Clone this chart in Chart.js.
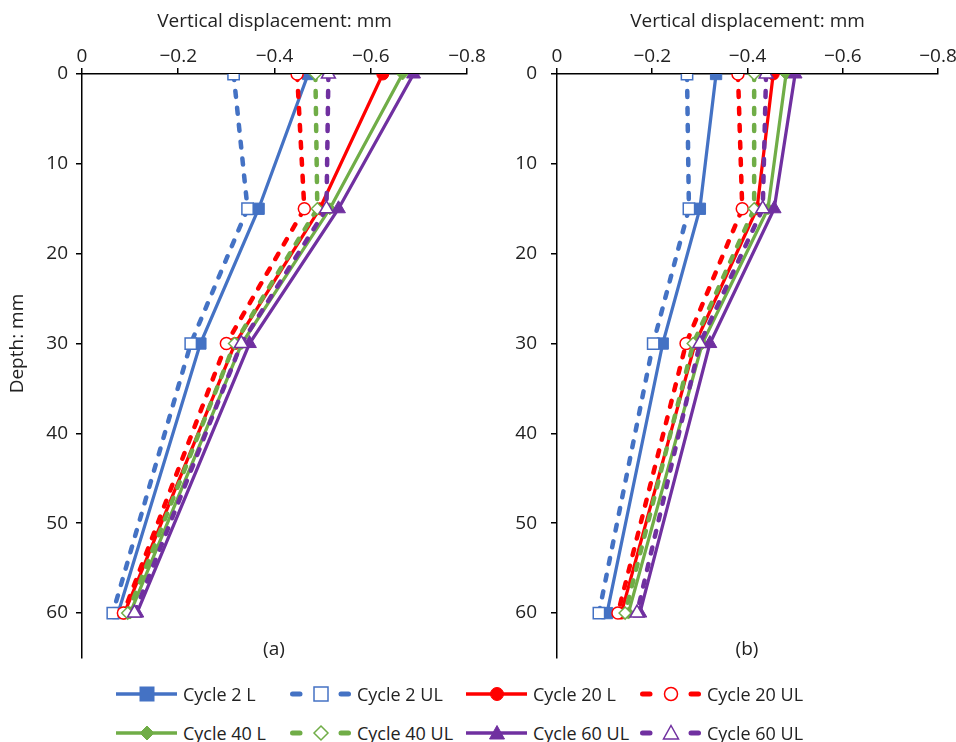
<!DOCTYPE html>
<html>
<head>
<meta charset="utf-8">
<script src="https://cdn.jsdelivr.net/npm/chart.js@4.4.1/dist/chart.umd.min.js"></script>
<style>
  body { margin: 0; background: #fff; font-family: "Open Sans", sans-serif; color: #222; }
  #wrap { position: relative; width: 956px; height: 742px; overflow: hidden; }
  .panel { position: absolute; top: 0; }
  .caption { position: absolute; font-size: 19px; transform: translate(-50%, -50%); }
  .item { position: absolute; display: flex; align-items: center; font-size: 18px; white-space: nowrap; transform: translateY(-50%); }
  .item svg { margin-right: 6px; }
</style>
</head>
<body>
<div id="wrap">
  <canvas id="chartA" class="panel" width="495" height="670" style="left:0"></canvas>
  <canvas id="chartB" class="panel" width="476" height="670" style="left:480px"></canvas>
  <div class="caption" style="left:274px; top:648px">(a)</div>
  <div class="caption" style="left:747px; top:648px">(b)</div>
  <div id="legend"></div>
</div>
<script>
// depths (mm) where displacement was read
const depths = [0, 15, 30, 60];

const seriesNames = ['Cycle 2 L', 'Cycle 2 UL', 'Cycle 20 L', 'Cycle 20 UL',
                     'Cycle 40 L', 'Cycle 40 UL', 'Cycle 60 UL', 'Cycle 60 UL'];

// panel (a) vertical displacement, mm
const cycle2L_a  = [-0.470, -0.367, -0.246, -0.075];
const cycle2UL_a = [-0.315, -0.344, -0.226, -0.064];
const cycle20L_a = [-0.625, -0.494, -0.318, -0.088];
const cycle20UL_a = [-0.447, -0.462, -0.300, -0.086];
const cycle40L_a = [-0.666, -0.515, -0.332, -0.100];
const cycle40UL_a = [-0.485, -0.489, -0.317, -0.095];
const cycle60L_a = [-0.689, -0.533, -0.348, -0.114];
const cycle60UL_a = [-0.512, -0.508, -0.331, -0.109];

// panel (b)
const cycle2L_b  = [-0.334, -0.300, -0.222, -0.105];
const cycle2UL_b = [-0.273, -0.277, -0.202, -0.088];
const cycle20L_b = [-0.454, -0.420, -0.290, -0.135];
const cycle20UL_b = [-0.380, -0.389, -0.271, -0.128];
const cycle40L_b = [-0.481, -0.443, -0.305, -0.150];
const cycle40UL_b = [-0.414, -0.414, -0.286, -0.143];
const cycle60L_b = [-0.500, -0.456, -0.321, -0.174];
const cycle60UL_b = [-0.439, -0.432, -0.300, -0.168];

const xTickLabels = ['0', '\u22120.2', '\u22120.4', '\u22120.6', '\u22120.8'];
const yTickLabels = ['0', '10', '20', '30', '40', '50', '60'];

const BLUE = '#4472C4', RED = '#FF0000', GREEN = '#70AD47', PURPLE = '#7030A0';

// look of each series: colour, marker, filled (loaded) or open (unloaded)
const styles = [
  { color: BLUE,   marker: 'rect',     filled: true },
  { color: BLUE,   marker: 'rect',     filled: false },
  { color: RED,    marker: 'circle',   filled: true },
  { color: RED,    marker: 'circle',   filled: false },
  { color: GREEN,  marker: 'rectRot',  filled: true },
  { color: GREEN,  marker: 'rectRot',  filled: false },
  { color: PURPLE, marker: 'triangle', filled: true },
  { color: PURPLE, marker: 'triangle', filled: false },
];
const markerRadius = { rect: 8, circle: 6, rectRot: 6, triangle: 8 };

const FONT = '"Open Sans", sans-serif';

function buildDatasets(series) {
  return series.map((vals, i) => {
    const s = styles[i];
    return {
      label: seriesNames[i],
      data: depths.map((d, k) => ({ x: vals[k], y: d })),
      borderColor: s.color,
      borderWidth: s.filled ? 3.25 : 4.5,
      borderDash: s.filled ? [] : [6, 11],
      borderCapStyle: s.filled ? 'butt' : 'round',
      pointStyle: s.marker,
      pointRadius: markerRadius[s.marker],
      pointBackgroundColor: s.filled ? s.color : '#fff',
      pointBorderColor: s.color,
      pointBorderWidth: s.filled ? 1 : 1.5,
      tension: 0,
      order: series.length - i,   // later series on top, like the original
    };
  });
}

// y axis title drawn centred on the 0-60 span
const depthTitle = {
  id: 'depthTitle',
  afterDraw(chart, args, opts) {
    if (!opts.show) return;
    const y = chart.scales.y;
    const mid = (y.getPixelForValue(0) + y.getPixelForValue(60)) / 2;
    const ctx = chart.ctx;
    ctx.save();
    ctx.translate(18, mid);
    ctx.rotate(-Math.PI / 2);
    ctx.font = '19px ' + FONT;
    ctx.fillStyle = '#222';
    ctx.textAlign = 'center';
    ctx.textBaseline = 'middle';
    ctx.fillText('Depth: mm', 0, 0);
    ctx.restore();
  }
};

function noPad(s) {
  s.paddingTop = 0; s.paddingBottom = 0; s.paddingLeft = 0; s.paddingRight = 0;
}

function makePanel(id, series, opt) {
  return new Chart(document.getElementById(id), {
    type: 'line',
    data: { datasets: buildDatasets(series) },
    plugins: [depthTitle],
    options: {
      responsive: false,
      animation: false,
      layout: { padding: { left: 0, top: 2, right: opt.padRight, bottom: 12 } },
      plugins: {
        legend: { display: false },
        tooltip: { enabled: false },
        depthTitle: { show: opt.showTitle },
      },
      scales: {
        x: {
          type: 'linear',
          position: 'top',
          min: -0.8,
          max: 0,
          reverse: true,
          afterFit: s => { s.height = 72; noPad(s); },
          border: { display: true, color: '#000', width: 1.5 },
          grid: { drawOnChartArea: false, drawTicks: true, tickLength: 6, color: '#000', lineWidth: 1.5 },
          ticks: {
            stepSize: 0.2,
            padding: 0,
            color: '#222',
            font: { family: FONT, size: 19 },
            callback: v => xTickLabels[Math.round(-v / 0.2)],
          },
          title: {
            display: true,
            text: 'Vertical displacement: mm',
            color: '#222',
            font: { family: FONT, size: 19 },
            padding: { top: 8, bottom: 0 },
          },
        },
        y: {
          type: 'linear',
          position: 'left',
          min: 0,
          max: 65,
          reverse: true,
          afterFit: s => { s.width = opt.yWidth; noPad(s); },
          afterBuildTicks: s => { s.ticks = s.ticks.filter(t => t.value <= 60); },
          border: { display: true, color: '#000', width: 1.5 },
          grid: { drawOnChartArea: false, drawTicks: true, tickLength: 6, color: '#000', lineWidth: 1.5 },
          ticks: {
            stepSize: 10,
            padding: opt.yPad,
            color: '#222',
            font: { family: FONT, size: 19 },
            callback: v => yTickLabels[Math.round(v / 10)],
          },
        },
      },
    },
  });
}

makePanel('chartA',
  [cycle2L_a, cycle2UL_a, cycle20L_a, cycle20UL_a, cycle40L_a, cycle40UL_a, cycle60L_a, cycle60UL_a],
  { padRight: 28, yWidth: 82, yPad: 8, showTitle: true });
makePanel('chartB',
  [cycle2L_b, cycle2UL_b, cycle20L_b, cycle20UL_b, cycle40L_b, cycle40UL_b, cycle60L_b, cycle60UL_b],
  { padRight: 18, yWidth: 77, yPad: 14, showTitle: false });

// legend built from the same names/styles
function markerSvg(s, cx, cy) {
  const fill = s.filled ? s.color : '#fff';
  const sw = s.filled ? 1 : 1.5;
  if (s.marker === 'rect') return `<rect x="${cx - 7}" y="${cy - 7}" width="14" height="14" fill="${fill}" stroke="${s.color}" stroke-width="${sw}"/>`;
  if (s.marker === 'circle') return `<circle cx="${cx}" cy="${cy}" r="6.5" fill="${fill}" stroke="${s.color}" stroke-width="${sw}"/>`;
  if (s.marker === 'rectRot') return `<polygon points="${cx},${cy - 7} ${cx + 7},${cy} ${cx},${cy + 7} ${cx - 7},${cy}" fill="${fill}" stroke="${s.color}" stroke-width="${sw}"/>`;
  return `<polygon points="${cx},${cy - 7.5} ${cx + 7.5},${cy + 6} ${cx - 7.5},${cy + 6}" fill="${fill}" stroke="${s.color}" stroke-width="${sw}"/>`;
}

const legendCols = [116, 290, 466, 640];
const legendRows = [694, 733];
const legend = document.getElementById('legend');
seriesNames.forEach((name, i) => {
  const s = styles[i];
  const line = s.filled
    ? `<line x1="0" y1="10" x2="61" y2="10" stroke="${s.color}" stroke-width="3.5"/>`
    : `<line x1="2.5" y1="10" x2="10" y2="10" stroke="${s.color}" stroke-width="5" stroke-linecap="round"/>` +
      `<line x1="51" y1="10" x2="58.5" y2="10" stroke="${s.color}" stroke-width="5" stroke-linecap="round"/>`;
  const div = document.createElement('div');
  div.className = 'item';
  div.style.left = legendCols[i % 4] + 'px';
  div.style.top = legendRows[Math.floor(i / 4)] + 'px';
  div.innerHTML = `<svg width="61" height="20">${line}${markerSvg(s, 31, 10)}</svg><span>${name}</span>`;
  legend.appendChild(div);
});
</script>
</body>
</html>
